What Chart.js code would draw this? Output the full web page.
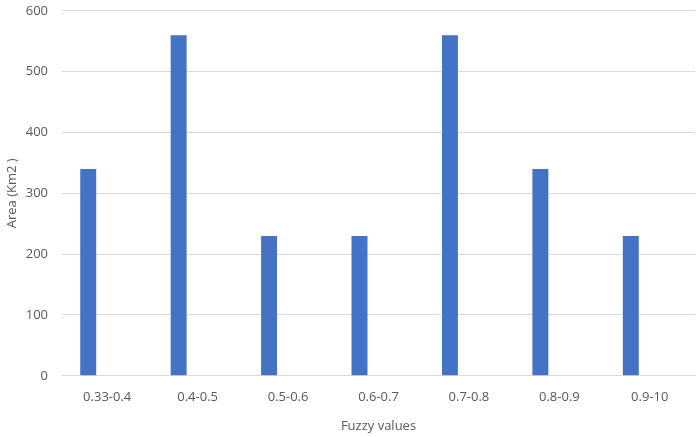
<!DOCTYPE html>
<html>
<head>
<meta charset="utf-8">
<script src="https://cdn.jsdelivr.net/npm/chart.js@4"></script>
<style>
  html, body { margin: 0; padding: 0; background: #fff; overflow: hidden; }
  #wrap { width: 700px; height: 448px; margin-top: -11px; }
</style>
</head>
<body>
<div id="wrap"><canvas id="areaChart"></canvas></div>
<script>
// chart data
const categories = ['0.33-0.4', '0.4-0.5', '0.5-0.6', '0.6-0.7', '0.7-0.8', '0.8-0.9', '0.9-10'];
const areaValues = [340, 560, 230, 230, 560, 340, 230];
// second series is empty in the original, it only shifts the bars left
const emptyValues = [null, null, null, null, null, null, null];
const yTicks = [0, 100, 200, 300, 400, 500, 600];

const font = { family: '"Open Sans", sans-serif', size: 13 };

const ctx = document.getElementById('areaChart').getContext('2d');
new Chart(ctx, {
  type: 'bar',
  data: {
    labels: categories,
    datasets: [{
      label: 'Area',
      data: areaValues,
      backgroundColor: '#4472C4',
      categoryPercentage: 0.84,
      barPercentage: 0.42
    }, {
      label: 'Series 2',
      data: emptyValues,
      backgroundColor: '#ED7D31',
      categoryPercentage: 0.84,
      barPercentage: 0.42
    }]
  },
  options: {
    responsive: true,
    maintainAspectRatio: false,
    animation: false,
    layout: { padding: { top: 0, right: 5, left: 0, bottom: 1 } },
    scales: {
      y: {
        min: 0,
        max: 600,
        afterBuildTicks: axis => { axis.ticks = yTicks.map(v => ({ value: v })); },
        afterFit: axis => { axis.width = 62; },
        grid: { color: '#D9D9D9', drawTicks: false },
        border: { display: false },
        ticks: { color: '#595959', font: font, padding: 14 },
        title: { display: true, text: 'Area (Km2 )', color: '#595959', font: font, padding: { top: 4, bottom: 0 } }
      },
      x: {
        grid: { display: false },
        border: { display: true, color: '#D9D9D9' },
        ticks: { color: '#595959', font: font, padding: 6, autoSkip: false, maxRotation: 0, minRotation: 0 },
        title: { display: true, text: 'Fuzzy values', color: '#595959', font: font, padding: { top: 7, bottom: 2 } }
      }
    },
    plugins: {
      legend: { display: false },
      tooltip: { enabled: false }
    }
  }
});
</script>
</body>
</html>
